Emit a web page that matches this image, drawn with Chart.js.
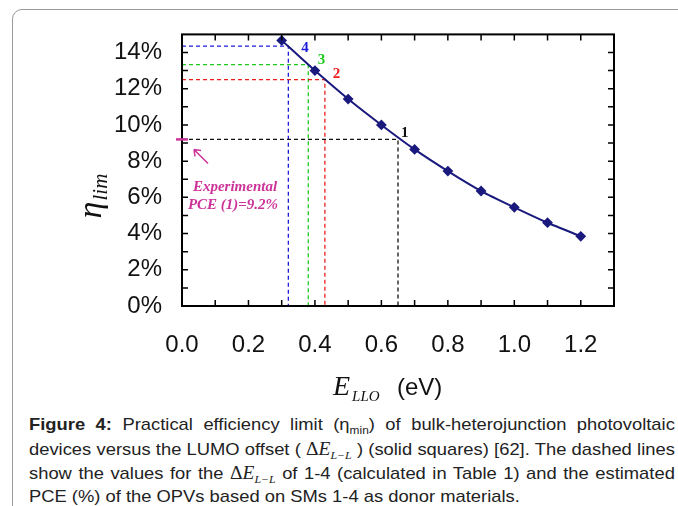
<!DOCTYPE html>
<html>
<head>
<meta charset="utf-8">
<script src="https://cdn.jsdelivr.net/npm/chart.js@4.4.1/dist/chart.umd.min.js"></script>
<style>
    body { margin: 0; background: #fff; width: 678px; height: 506px; overflow: hidden; position: relative; }
    #frame { position: absolute; left: 12px; top: 9px; width: 690px; height: 520px; border: 1px solid #999; border-radius: 10px; }
    #chartBox { position: absolute; left: 0; top: 0; width: 678px; height: 410px; }
    #caption {
        position: absolute; left: 29px; top: 413px; width: 598px;
        transform: scaleX(1.08); transform-origin: 0 0;
        font-family: 'Liberation Sans', Arial, sans-serif; font-size: 17px; color: #222;
    }
    .ln { height: 24px; line-height: 24px; text-align: justify; text-align-last: justify; }
    .ln.last { text-align-last: left; }
    .m { font-family: 'Liberation Serif', 'Times New Roman', serif; font-size: 18px; }
    sub { font-size: 11px; vertical-align: -4px; line-height: 0; }
</style>
</head>
<body>
<div id="frame"></div>
<div id="chartBox"><canvas id="pceChart" width="678" height="410"></canvas></div>
<div id="caption">
    <div class="ln"><b>Figure 4:</b> Practical efficiency limit (η<sub>min</sub>) of bulk-heterojunction photovoltaic</div>
    <div class="ln">devices versus the LUMO offset ( <span class="m">Δ<i>E</i><sub><i>L−L</i></sub></span> ) (solid squares) [62]. The dashed lines</div>
    <div class="ln">show the values for the <span class="m">Δ<i>E</i><sub><i>L−L</i></sub></span> of 1-4 (calculated in Table 1) and the estimated</div>
    <div class="ln last">PCE (%) of the OPVs based on SMs 1-4 as donor materials.</div>
</div>
<script>
// LUMO offset (eV) and practical efficiency limit (%)
const lloOffset = [0.3, 0.4, 0.5, 0.6, 0.7, 0.8, 0.9, 1.0, 1.1, 1.2];
const etaLim = [14.67, 13.0, 11.43, 10.0, 8.65, 7.45, 6.35, 5.45, 4.6, 3.85];

// SMs 1-4: offset and estimated PCE
const smNames = ['1', '2', '3', '4'];
const smOffset = [0.65, 0.43, 0.38, 0.32];
const smPce = [9.2, 12.5, 13.33, 14.35];
const smLabelX = [0.67, 0.465, 0.42, 0.37];
const smLabelY = [9.57, 12.83, 13.6, 14.26];
const smColors = ['#111111', '#ee1c1c', '#1ec81e', '#1c1cdc'];

const experimentalPce = 9.2;

// axis ticks
const xTicks = [0.0, 0.2, 0.4, 0.6, 0.8, 1.0, 1.2];
const yTicks = [0, 2, 4, 6, 8, 10, 12, 14];
const xMinor = [0.1, 0.2, 0.3, 0.4, 0.5, 0.6, 0.7, 0.8, 0.9, 1.0, 1.1, 1.2];
const yMinor = [1, 2, 3, 4, 5, 6, 7, 8, 9, 10, 11, 12, 13, 14];

const SANS = "'Liberation Sans', Arial, sans-serif";
const SERIF = "'Liberation Serif', 'Times New Roman', serif";
const MAGENTA = '#cc3399';

const datasets = [{
    data: lloOffset.map((v, i) => ({ x: v, y: etaLim[i] })),
    showLine: true,
    borderColor: '#1a1a7e',
    backgroundColor: '#1a1a7e',
    borderWidth: 2,
    tension: 0.2,
    pointStyle: 'rectRot',
    pointRadius: 4
}];

smNames.forEach((name, i) => {
    datasets.push({
        data: [
            { x: 0, y: smPce[i] },
            { x: smOffset[i], y: smPce[i] },
            { x: smOffset[i], y: 0 }
        ],
        showLine: true,
        borderColor: smColors[i],
        borderWidth: 1.3,
        borderDash: [4, 3],
        pointRadius: 0,
        tension: 0
    });
});

// box, inward ticks, titles and annotations
const decorPlugin = {
    id: 'decor',
    afterDatasetsDraw(chart) {
        const { ctx, chartArea: a, scales: { x, y } } = chart;
        ctx.save();

        ctx.strokeStyle = '#000';
        ctx.lineWidth = 2;
        ctx.strokeRect(a.left, a.top, a.right - a.left, a.bottom - a.top);

        ctx.lineWidth = 1.5;
        ctx.beginPath();
        xMinor.forEach(v => {
            const px = x.getPixelForValue(v);
            ctx.moveTo(px, a.bottom); ctx.lineTo(px, a.bottom - 6);
            ctx.moveTo(px, a.top); ctx.lineTo(px, a.top + 6);
        });
        yMinor.forEach(v => {
            const py = y.getPixelForValue(v);
            ctx.moveTo(a.left, py); ctx.lineTo(a.left + 6, py);
            ctx.moveTo(a.right, py); ctx.lineTo(a.right - 6, py);
        });
        ctx.stroke();

        // SM number labels
        ctx.font = 'bold 15px ' + SERIF;
        ctx.textAlign = 'center';
        ctx.textBaseline = 'middle';
        smNames.forEach((name, i) => {
            ctx.fillStyle = smColors[i];
            ctx.fillText(name, x.getPixelForValue(smLabelX[i]), y.getPixelForValue(smLabelY[i]));
        });

        // experimental PCE marker, arrow and text
        const ey = y.getPixelForValue(experimentalPce);
        const ex = x.getPixelForValue(0);
        ctx.strokeStyle = MAGENTA;
        ctx.fillStyle = MAGENTA;
        ctx.lineWidth = 2.5;
        ctx.beginPath();
        ctx.moveTo(ex - 6, ey); ctx.lineTo(ex + 6, ey);
        ctx.stroke();
        ctx.lineWidth = 1.5;
        ctx.beginPath();
        ctx.moveTo(ex + 26, ey + 24); ctx.lineTo(ex + 12, ey + 10);
        ctx.moveTo(ex + 12, ey + 10); ctx.lineTo(ex + 13, ey + 17);
        ctx.moveTo(ex + 12, ey + 10); ctx.lineTo(ex + 19, ey + 11);
        ctx.stroke();
        ctx.font = 'italic bold 15px ' + SERIF;
        ctx.fillText('Experimental', ex + 53, ey + 48);
        ctx.fillText('PCE (1)=9.2%', ex + 51, ey + 66);

        // y axis title: eta_lim
        ctx.fillStyle = '#111';
        ctx.save();
        ctx.translate(a.left - 81, a.top + 184);
        ctx.rotate(-Math.PI / 2);
        ctx.textAlign = 'left';
        ctx.textBaseline = 'alphabetic';
        ctx.font = 'italic 34px ' + SERIF;
        ctx.fillText('η', 0, 0);
        const ew = ctx.measureText('η').width;
        ctx.font = 'italic 21px ' + SERIF;
        ctx.fillText('lim', ew + 1, 6);
        ctx.restore();

        // x axis title: E_LLO (eV)
        ctx.textAlign = 'left';
        ctx.textBaseline = 'alphabetic';
        const tx = (a.left + a.right) / 2 - 65;
        const ty = a.bottom + 89;
        ctx.font = 'italic 28px ' + SERIF;
        ctx.fillText('E', tx, ty);
        const w1 = ctx.measureText('E').width;
        ctx.font = 'italic 15px ' + SERIF;
        ctx.fillText('LLO', tx + w1 + 2, ty + 6);
        ctx.font = '24px ' + SANS;
        ctx.fillText('(eV)', tx + 64, ty);

        ctx.restore();
    }
};

new Chart(document.getElementById('pceChart'), {
    type: 'scatter',
    data: { datasets },
    options: {
        responsive: false,
        devicePixelRatio: 1,
        animation: false,
        layout: { padding: { left: 0, right: 64, top: 24, bottom: 0 } },
        plugins: { legend: { display: false }, tooltip: { enabled: false } },
        scales: {
            x: {
                type: 'linear',
                min: 0,
                max: 1.3,
                grid: { display: false, drawTicks: false },
                border: { display: false },
                afterBuildTicks: (scale) => { scale.ticks = xTicks.map(v => ({ value: v })); },
                afterFit: (scale) => { scale.height = 104; },
                ticks: {
                    padding: 25,
                    color: '#111',
                    font: { family: SANS, size: 24 },
                    callback: (v) => Number(v).toFixed(1)
                }
            },
            y: {
                type: 'linear',
                min: 0,
                max: 15,
                grid: { display: false, drawTicks: false },
                border: { display: false },
                afterBuildTicks: (scale) => { scale.ticks = yTicks.map(v => ({ value: v })); },
                afterFit: (scale) => { scale.width = 182; },
                ticks: {
                    padding: 20,
                    color: '#111',
                    font: { family: SANS, size: 24 },
                    callback: (v) => v + '%'
                }
            }
        }
    },
    plugins: [decorPlugin]
});
</script>
</body>
</html>
